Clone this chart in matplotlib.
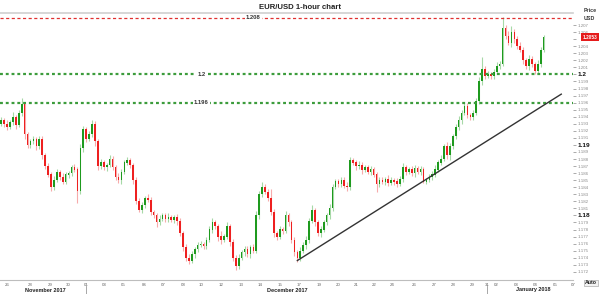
import matplotlib
matplotlib.use("Agg")
import matplotlib.pyplot as plt
import matplotlib.transforms as mtransforms
import numpy as np

plt.rcParams['font.family'] = ['Liberation Sans', 'DejaVu Sans']

# ---------------- data ----------------
title = "EUR/USD 1-hour chart"
first_open = 1.1930
closes = [
    1.1935, 1.1930, 1.1925, 1.1932, 1.1940, 1.1928, 1.1945, 1.1958, 1.1915, 1.1900,
    1.1905, 1.1908, 1.1898, 1.1908, 1.1885, 1.1870, 1.1858, 1.1840, 1.1850, 1.1862,
    1.1855, 1.1848, 1.1858, 1.1860, 1.1868, 1.1865, 1.1835, 1.1895, 1.1922, 1.1908,
    1.1915, 1.1930, 1.1905, 1.1870, 1.1875, 1.1868, 1.1872, 1.1880, 1.1868, 1.1855,
    1.1850, 1.1862, 1.1875, 1.1878, 1.1872, 1.1850, 1.1820, 1.1808, 1.1815, 1.1825,
    1.1822, 1.1805, 1.1800, 1.1790, 1.1795, 1.1800, 1.1795, 1.1798, 1.1793, 1.1797,
    1.1792, 1.1775, 1.1755, 1.1740, 1.1735, 1.1745, 1.1752, 1.1758, 1.1760, 1.1757,
    1.1765, 1.1780, 1.1790, 1.1785, 1.1770, 1.1765, 1.1770, 1.1785, 1.1762, 1.1740,
    1.1728, 1.1740, 1.1748, 1.1752, 1.1745, 1.1755, 1.1750, 1.1800, 1.1830, 1.1840,
    1.1833, 1.1825, 1.1805, 1.1775, 1.1770, 1.1780, 1.1778, 1.1800, 1.1790, 1.1765,
    1.1748, 1.1740, 1.1750, 1.1758, 1.1765, 1.1792, 1.1808, 1.1790, 1.1775, 1.1780,
    1.1790, 1.1800, 1.1810, 1.1840, 1.1848, 1.1845, 1.1850, 1.1842, 1.1840, 1.1878,
    1.1875, 1.1870, 1.1872, 1.1865, 1.1868, 1.1862, 1.1865, 1.1858, 1.1845, 1.1850,
    1.1848, 1.1852, 1.1846, 1.1850, 1.1848, 1.1845, 1.1852, 1.1868, 1.1862, 1.1865,
    1.1860, 1.1867, 1.1862, 1.1865, 1.1848, 1.1850, 1.1855, 1.1858, 1.1865, 1.1875,
    1.1880, 1.1898, 1.1885, 1.1898, 1.1912, 1.1925, 1.1935, 1.1945, 1.1955, 1.1942,
    1.1940, 1.1945, 1.1962, 1.1990, 1.2008, 1.1998, 1.2000, 1.1998, 1.2003, 1.2012,
    1.2015, 1.2065, 1.2055, 1.2045, 1.2060, 1.2050, 1.2040, 1.2035, 1.2020, 1.2012,
    1.2022, 1.2015, 1.2005, 1.2015, 1.2035, 1.2053,
]
# wick extensions beyond the candle body, in pips
wick_up_pips = [
    4, 3, 5, 4, 6, 3, 5, 8, 3, 4,
    3, 4, 3, 5, 4, 3, 5, 4, 6, 4,
    3, 5, 4, 3, 4, 5, 3, 6, 5, 4,
    5, 6, 4, 3, 5, 4, 3, 6, 4, 3,
    5, 4, 3, 5, 4, 3, 4, 5, 4, 3,
    5, 4, 3, 4, 5, 3, 4, 5, 3, 4,
    5, 4, 3, 4, 5, 4, 3, 5, 4, 3,
    4, 5, 6, 4, 3, 8, 4, 5, 3, 4,
    4, 5, 3, 4, 5, 3, 4, 6, 5, 7,
    4, 5, 12, 4, 3, 5, 4, 6, 4, 3,
    4, 3, 5, 4, 6, 5, 7, 3, 4, 5,
    3, 4, 6, 5, 4, 3, 5, 4, 6, 5,
    4, 3, 5, 4, 3, 4, 5, 3, 4, 5,
    4, 3, 5, 4, 3, 5, 4, 6, 4, 3,
    5, 4, 3, 5, 4, 3, 4, 5, 6, 4,
    5, 4, 6, 5, 4, 5, 6, 4, 5, 4,
    3, 5, 4, 6, 17, 4, 5, 3, 4, 5,
    4, 16, 5, 6, 8, 5, 4, 6, 4, 3,
    5, 4, 3, 5, 4, 3,
]
wick_dn_pips = [
    3, 5, 4, 3, 4, 5, 3, 4, 6, 4,
    4, 3, 5, 4, 5, 4, 3, 6, 4, 3,
    5, 4, 3, 5, 4, 3, 18, 4, 5, 4,
    3, 4, 6, 5, 4, 3, 5, 4, 3, 5,
    4, 5, 3, 4, 5, 6, 4, 3, 5, 4,
    3, 5, 4, 6, 4, 3, 5, 4, 3, 4,
    5, 4, 6, 5, 4, 3, 5, 4, 3, 5,
    4, 3, 5, 4, 6, 5, 3, 4, 6, 5,
    6, 4, 3, 5, 4, 6, 4, 3, 5, 4,
    3, 5, 4, 6, 5, 3, 4, 3, 5, 4,
    5, 6, 4, 3, 5, 4, 3, 5, 4, 6,
    4, 3, 5, 4, 3, 5, 4, 3, 5, 4,
    3, 5, 4, 6, 4, 3, 5, 4, 12, 4,
    3, 5, 4, 3, 5, 4, 3, 4, 5, 3,
    4, 5, 3, 4, 2, 4, 3, 5, 4, 3,
    4, 3, 5, 6, 4, 3, 4, 5, 3, 4,
    5, 4, 3, 4, 5, 4, 3, 5, 4, 3,
    4, 3, 5, 4, 6, 5, 4, 3, 5, 4,
    6, 5, 4, 3, 4, 3,
]
resistance = 1.208
support_levels = [1.2, 1.196]
trend_bars = [101, 191]
trend_prices = [1.1736, 1.1972]
last_price_label = "1.2053"

# date axis (bar positions, 3 px per bar)
date_tick_pos = [2, 10, 16.7, 22.7, 29, 35.3, 41.7, 48.7, 55.3, 62, 68, 75, 81.7, 88.3, 95,
                 101.7, 108.3, 115, 121, 127.3, 133.3, 141, 147.7, 154.3, 160.7, 165.7,
                 168.7, 175.7, 182.3, 189, 195]
date_tick_labels = ["26", "28", "29", "30", "01", "03", "05", "06", "07", "08", "10", "12",
                    "13", "14", "15", "17", "19", "20", "21", "22", "24", "26", "27", "28",
                    "29", "31", "02", "03", "04", "05", "07"]
month_labels = ["November 2017", "December 2017", "January 2018"]
month_label_pos = [15, 97.5, 181.5]
month_separators = [29, 165.7]

price_ticks = [round(1.172 + 0.001 * k, 3) for k in range(36)]
major_prices = [1.18, 1.19, 1.2]
hidden_price = 1.205   # covered by the last-price box

# ---------------- figure ----------------
W, H = 600, 294
fig = plt.figure(figsize=(W / 100, H / 100), dpi=100)
ax = fig.add_axes([0, 1 - 280 / H, 573 / W, (280 - 12.5) / H])

closes_a = np.array(closes)
opens_a = np.concatenate([[first_open], closes_a[:-1]])
x = np.arange(len(closes_a))
top = np.maximum(opens_a, closes_a)
bot = np.minimum(opens_a, closes_a)
highs = top + np.array(wick_up_pips) * 1e-4
lows = bot - np.array(wick_dn_pips) * 1e-4
up = closes_a >= opens_a

ax.vlines(x[up], lows[up], highs[up], color='#a6d9a6', lw=0.8, zorder=2)
ax.vlines(x[~up], lows[~up], highs[~up], color='#f7abab', lw=0.8, zorder=2)
ax.bar(x[up], (top - bot)[up] + 1.5e-5, bottom=bot[up], width=0.55,
       color='#1e9a1e', edgecolor='none', zorder=3)
ax.bar(x[~up], (top - bot)[~up] + 1.5e-5, bottom=bot[~up], width=0.55,
       color='#ee2020', edgecolor='none', zorder=3)

ax.set_xlim(-0.4, 190.6)
ax.set_ylim(1.17084, 1.20878)

# level lines
ax.axhline(resistance, color='#e03030', ls=(0, (2.5, 2)), lw=0.9, zorder=4)
for lv in support_levels:
    ax.axhline(lv, color='#3c9c3c', ls=(0, (1.3, 1.3)), lw=1.6, zorder=4)
ax.text(86, resistance, "1.208", ha='center', va='center', fontsize=4.2, fontweight='bold',
        color='#333', zorder=5, bbox=dict(fc='white', ec='none', pad=0.8))
ax.text(68.3, support_levels[0], "1.2", ha='center', va='center', fontsize=4.2,
        fontweight='bold', color='#333', zorder=5, bbox=dict(fc='white', ec='none', pad=0.8))
ax.text(68.3, support_levels[1], "1.196", ha='center', va='center', fontsize=4.2,
        fontweight='bold', color='#333', zorder=5, bbox=dict(fc='white', ec='none', pad=0.8))

# trend line
ax.plot(trend_bars, trend_prices, color='#333333', lw=1.0, zorder=5, clip_on=False)

# spines
for s in ['left', 'right']:
    ax.spines[s].set_visible(False)
ax.spines['top'].set_color('#cfcfcf')
ax.spines['top'].set_linewidth(1.2)
ax.spines['bottom'].set_color('#bdbdbd')
ax.spines['bottom'].set_linewidth(0.8)

# y axis on right
ax.yaxis.tick_right()
ax.set_yticks(price_ticks)
labels = []
for p in price_ticks:
    if any(abs(p - m) < 1e-9 for m in major_prices):
        labels.append(f"{p:g}")
    elif abs(p - hidden_price) < 1e-9:
        labels.append("")
    else:
        labels.append(f"{p:.3f}")
ax.set_yticklabels(labels)
ax.tick_params(axis='y', length=2, width=0.5, color='#888', pad=1.2, labelsize=3.2,
               labelcolor='#8a8a8a')
for p, t in zip(price_ticks, ax.get_yticklabels()):
    if any(abs(p - m) < 1e-9 for m in major_prices):
        t.set_fontweight('bold')
        t.set_fontsize(4.6)
        t.set_color('#111')

# x axis
ax.set_xticks(date_tick_pos)
ax.set_xticklabels(date_tick_labels)
ax.tick_params(axis='x', length=0, pad=2.2, labelsize=3.2, labelcolor='#666')
for t in ax.get_xticklabels():
    t.set_clip_on(False)

trans = mtransforms.blended_transform_factory(ax.transData, fig.transFigure)
for lab, pos in zip(month_labels, month_label_pos):
    ax.text(pos, 1 - 290 / H, lab, transform=trans, ha='center', va='center', fontsize=4,
            fontweight='bold', color='#222', clip_on=False)
for pos in month_separators:
    ax.plot([pos, pos], [1 - 286 / H, 0], transform=trans, color='#999', lw=0.6, clip_on=False)

# title and right side decorations
fig.text(0.5, 1 - 7.5 / H, title, ha='center', va='center', fontsize=5.6, fontweight='bold',
         color='#222')
fig.text(584 / W, 1 - 10.5 / H, "Price", ha='left', va='center', fontsize=3.8,
         fontweight='bold', color='#333')
fig.text(584 / W, 1 - 18 / H, "USD", ha='left', va='center', fontsize=3.8,
         fontweight='bold', color='#333')
ax.annotate(last_price_label, xy=(1.0, closes[-1]),
            xycoords=mtransforms.blended_transform_factory(ax.transAxes, ax.transData),
            xytext=(7, 0), textcoords='offset points', ha='left', va='center',
            fontsize=3.4, fontweight='bold', color='white', annotation_clip=False,
            bbox=dict(fc='#e51c1c', ec='none', pad=0.9), zorder=10)
fig.text(591 / W, 1 - 283 / H, "Auto", ha='center', va='center', fontsize=3.8,
         fontweight='bold', color='#222',
         bbox=dict(fc='#f2f2f2', ec='#999', lw=0.4, pad=0.6))

fig.savefig("out.png", dpi=100)
